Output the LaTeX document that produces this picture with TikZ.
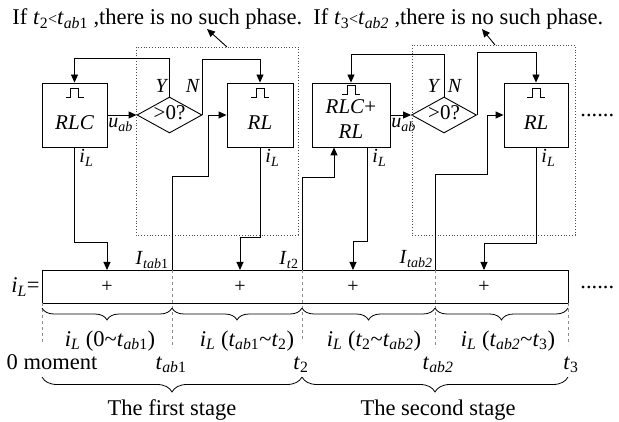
\documentclass[tikz,border=0pt]{standalone}
\usepackage{fontspec}
\setmainfont{Liberation Serif}
\usetikzlibrary{arrows.meta,shapes.geometric,decorations.pathreplacing}
\newcommand{\tsub}[1]{\textit{t}\textsubscript{#1}}
\newcommand{\Isub}[1]{\textit{I}\textsubscript{#1}}
\newcommand{\iL}{\textit{i}\textsubscript{\textit{L}}}
\begin{document}
\begin{tikzpicture}[x=1pt,y=-1pt,line width=0.9pt,
  every node/.style={font=\fontsize{20}{24}\selectfont,inner sep=0pt},
  txt/.style={font=\fontsize{22.5}{27}\selectfont},
  blk/.style={draw,minimum width=65pt,minimum height=64pt,font=\fontsize{21}{25}\selectfont\itshape},
  lift/.style={text height=29pt,text depth=0pt},
  dec/.style={draw,diamond,aspect=2,minimum width=65pt,minimum height=36pt,text height=10pt,text depth=0pt,font=\fontsize{21}{25}\selectfont},
  arr/.style={-{Triangle[length=8pt,width=7pt]}},
  dotbox/.style={dotted,line width=0.8pt,black!70},
  divline/.style={dashed,line width=0.6pt,black!45},
  brc/.style={decorate,decoration={brace,mirror,amplitude=#1},line width=0.8pt}]
\useasboundingbox (0,0) rectangle (619,422);
% Stage 1
\node[txt,anchor=base west] (title1) at (12,25) {If \tsub{2}{\fontsize{16}{16}\selectfont<}\tsub{\textit{ab}1} ,there is no such phase.};
\node[blk,lift] (rlc1) at (74.5,115) {RLC};
\node[dec] (d1) at (169.5,115) {>0?};
\node[blk,lift,minimum width=66pt] (rl1) at (260,115) {RL};
\node[anchor=base west] (ua1) at (108,128) {\textit{u}\textsubscript{\textit{ab}}};
\node[anchor=base] (y1) at (162,93) {\textit{Y}};
\node[anchor=base] (n1) at (193,93) {\textit{N}};
\node[anchor=base west] (il1) at (79,163) {\iL};
\node[anchor=base west] (il2) at (265,163) {\iL};
\draw[dotbox] (136,47) rectangle (298,235);
\coordinate (c1) at (227,47); \coordinate (h1) at (207,29);
\draw[arr] (c1) -- (h1);
% Stage 2
\node[txt,anchor=base west] (title2) at (313,25) {If \tsub{3}{\fontsize{16}{16}\selectfont<}\tsub{\textit{ab2}} ,there is no such phase.};
\node[blk,minimum width=78pt] (rlc2) at (351,115) {};
\node[font=\fontsize{21}{25}\selectfont\itshape,align=center] (rlc2t) at (351,119) {RLC\textup{+}\\RL};
\node[dec] (d2) at (444,115) {>0?};
\node[blk,lift,minimum width=64pt] (rl2) at (536,115) {RL};
\node[anchor=base west] (ua2) at (391,128) {\textit{u}\textsubscript{\textit{ab}}};
\node[anchor=base] (y2) at (434,93) {\textit{Y}};
\node[anchor=base] (n2) at (455,93) {\textit{N}};
\node[anchor=base west] (il3) at (372,163) {\iL};
\node[anchor=base west] (il4) at (541,163) {\iL};
\draw[dotbox] (412,45) rectangle (575,235);
\coordinate (c2) at (495,45); \coordinate (h2) at (482,29);
\draw[arr] (c2) -- (h2);
\node[txt,anchor=base west] (dots1) at (580,117) {......};
\foreach \b/\s in {rlc1/15,rl1/15,rlc2/12,rl2/15}
  \draw[line width=0.8pt] ([yshift=-\s pt]\b.north) ++(-9,0) -- ++(5,0) -- ++(0,-9) -- ++(8,0) -- ++(0,9) -- ++(5,0);
% Current bar
\node[draw,line width=1.2pt,minimum width=526pt,minimum height=33pt,anchor=north west] (bar) at (42,270) {};
\node[txt,anchor=base east] (il0) at (40,293) {\iL=};
\node[txt,anchor=base west] (dots2) at (580,289) {......};
\foreach \i/\x in {1/107,2/240,3/353,4/484} \node (s\i) at (\x,287) {+};
\foreach \i/\x/\a/\b in {0/42/303/342,1/172/270/348,2/302/270/341,3/435/270/348,4/568/303/345} {
  \coordinate (v\i) at (\x,270);
  \draw[divline] (\x,\a) -- (\x,\b);}
\node[anchor=base east] (it1) at (169,265) {\Isub{\textit{tab}1}};
\node[anchor=base east] (it2) at (299,265) {\Isub{\textit{t}2}};
\node[anchor=base east] (it3) at (433,264) {\Isub{\textit{tab2}}};
% Connectors
\draw[arr] (rlc1.east) -- (d1.west);
\draw[arr] (d1.north) -- ++(0,-38) -| (rlc1.north);
\draw[arr] (d1.east) -- ++(0,-56) -| (rl1.north);
\draw[arr] (rlc1.south) -- ++(0,95) -| (s1 |- bar.north);
\draw[arr] (rl1.south) -- ++(0,90) -| (s2 |- bar.north);
\draw[arr] (v1) -- ++(0,-94) -- ++(36,0) |- (rl1.west);
\draw[arr] (v2) -- ++(0,-93) -| ([xshift=-17pt]rlc2.south);
\draw[arr] (rlc2.east) -- (d2.west);
\draw[arr] (d2.north) -- ++(0,-42) -| (rlc2.north);
\draw[arr] (d2.east) -- ++(0,-63) -| (rl2.north);
\draw[arr] ([xshift=16pt]rlc2.south) -- ++(0,94) -| (s3 |- bar.north);
\draw[arr] (rl2.south) -- ++(0,96) -| (s4 |- bar.north);
\draw[arr] (v3) -- ++(0,-96) -- ++(52,0) |- (rl2.west);
% Braces and time axis
\foreach \a/\b in {42/172,172/302,302/435,435/568} \draw[brc=12pt] (\a,308) -- (\b,308);
\node[txt,anchor=base] (r1) at (110,346) {\iL{} (0\textasciitilde\tsub{\textit{ab}1})};
\node[txt,anchor=base] (r2) at (247,346) {\iL{} (\tsub{\textit{ab}1}\textasciitilde\tsub{2})};
\node[txt,anchor=base] (r3) at (374,346) {\iL{} (\tsub{2}\textasciitilde\tsub{\textit{ab2}})};
\node[txt,anchor=base] (r4) at (508,346) {\iL{} (\tsub{\textit{ab2}}\textasciitilde\tsub{3})};
\node[txt,anchor=base] (t0) at (52,369) {0 moment};
\node[txt,anchor=base] (t1) at (171,369) {\tsub{\textit{ab}1}};
\node[txt,anchor=base] (t2) at (301,369) {\tsub{2}};
\node[txt,anchor=base] (t3) at (438,369) {\tsub{\textit{ab2}}};
\node[txt,anchor=base] (t4) at (571,369) {\tsub{3}};
\draw[brc=15pt] (42,377) -- (302,377);
\draw[brc=15pt] (302,377) -- (568,377);
\node[txt,anchor=base] (st1) at (172,415) {The first stage};
\node[txt,anchor=base] (st2) at (438,415) {The second stage};
\end{tikzpicture}
\end{document}
